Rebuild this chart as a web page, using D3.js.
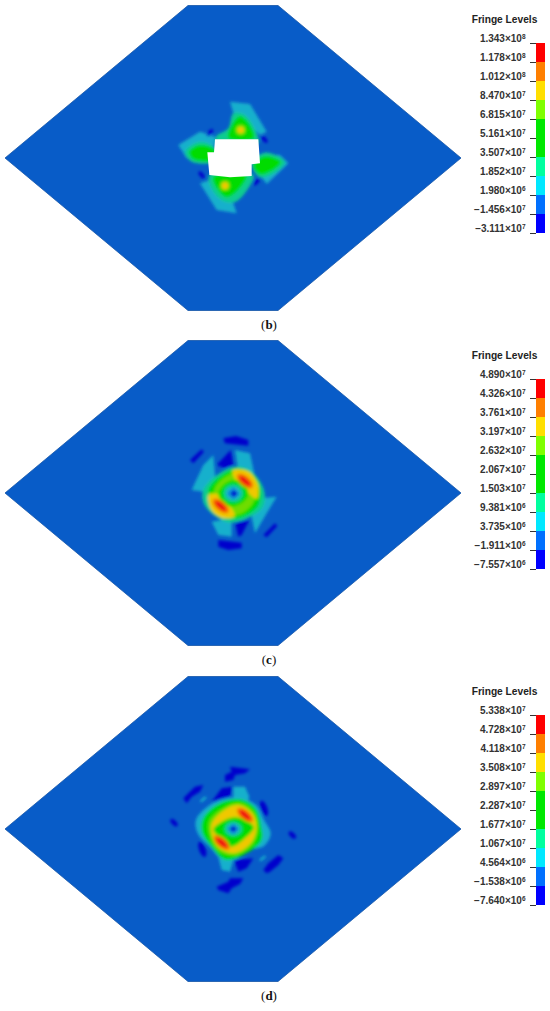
<!DOCTYPE html>
<html><head><meta charset="utf-8">
<script src="https://cdnjs.cloudflare.com/ajax/libs/d3/7.8.5/d3.min.js"></script>
<style>html,body{margin:0;padding:0;background:#fff}svg{display:block}</style></head>
<body><div id="c"></div>
<script>
const legendTitle = "Fringe Levels";
const levelsB = [["1.343","8"],["1.178","8"],["1.012","8"],["8.470","7"],["6.815","7"],["5.161","7"],["3.507","7"],["1.852","7"],["1.980","6"],["\u22121.456","7"],["\u22123.111","7"]];
const levelsC = [["4.890","7"],["4.326","7"],["3.761","7"],["3.197","7"],["2.632","7"],["2.067","7"],["1.503","7"],["9.381","6"],["3.735","6"],["\u22121.911","6"],["\u22127.557","6"]];
const levelsD = [["5.338","7"],["4.728","7"],["4.118","7"],["3.508","7"],["2.897","7"],["2.287","7"],["1.677","7"],["1.067","7"],["4.564","6"],["\u22121.538","6"],["\u22127.640","6"]];
const bandColors = ["#ff0000","#ff7f00","#ffdf00","#7fff00","#00e800","#00e800","#00ff9f","#00e8ff","#0070ff","#0000ff"];
const captions = ["b","c","d"];

// outline of the plate in plate units
const plateOutline = [[-45,-152.5],[45,-152.5],[228,0],[45,152.5],[-45,152.5],[-228,0]];

// contour shapes: [fringe colour key, "p" polygon | "r" rounded | "e" ellipse, geometry]
const fringeTone = {dark:"#0000cc",teal:"#18b0cc",mint:"#10cc90",green:"#00dc00",lime:"#70dc00",gold:"#f0c800",orange:"#f67a00",red:"#f01008",blue:"#0a5fc8",azure:"#0a8ad8"};
const shapesB = [
 ["teal","p",[[240,65],[300,72],[350,155],[330,165],[300,135],[255,115]]],
 ["teal","p",[[85,195],[150,155],[195,170],[190,240],[110,235]]],
 ["teal","p",[[415,250],[350,312],[330,285],[320,225],[390,225]]],
 ["teal","p",[[150,310],[195,295],[240,340],[260,400],[200,390]]],
 ["mint","r",[[198,170],[235,145],[250,100],[285,105],[320,160],[325,190],[200,190]]],
 ["mint","r",[[178,285],[310,285],[295,325],[258,365],[225,365],[190,335]]],
 ["mint","r",[[105,215],[150,185],[195,205],[190,245],[125,245]]],
 ["mint","r",[[305,250],[345,218],[405,245],[380,275],[330,292]]],
 ["green","r",[[118,215],[150,195],[195,210],[190,240],[130,238]]],
 ["green","r",[[310,255],[345,228],[392,245],[375,266],[330,283]]],
 ["green","r",[[235,175],[245,135],[270,108],[300,135],[312,175]]],
 ["green","r",[[190,290],[290,285],[255,340],[228,352],[200,325]]],
 ["lime","e",[272,150,15,15,0]],
 ["lime","e",[225,317,15,15,0]],
 ["gold","e",[272,150,10,10,0]],
 ["gold","e",[225,317,10,10,0]],
 ["dark","e",[180,158,6,13,40]],
 ["dark","e",[343,178,6,13,-40]],
 ["dark","e",[155,285,6,13,-40]],
 ["dark","e",[320,305,6,13,40]]
];
const holeB = [[195,178],[325,178],[330,250],[305,253],[305,288],[240,292],[178,285],[172,217],[192,217]];
const shapesC = [
 ["teal","p",[[95,270],[130,195],[160,165],[165,225],[150,295],[130,275]]],
 ["teal","p",[[225,150],[270,160],[288,245],[235,215]]],
 ["teal","p",[[350,290],[320,340],[285,400],[275,350],[300,295]]],
 ["teal","p",[[155,365],[215,355],[215,410],[175,405]]],
 ["dark","p",[[190,115],[228,108],[265,120],[265,137],[195,130]]],
 ["dark","p",[[175,420],[245,428],[245,445],[205,450],[175,440]]],
 ["dark","p",[[90,180],[125,148],[132,155],[100,190]]],
 ["dark","p",[[310,405],[345,370],[352,378],[320,412]]],
 ["dark","p",[[170,195],[212,150],[220,195],[195,205]]],
 ["dark","p",[[225,365],[268,360],[245,405],[235,410]]],
 ["mint","r",[[130,270],[175,222],[225,200],[272,212],[312,270],[308,322],[262,355],[210,368],[165,348],[132,312]]],
 ["green","r",[[145,270],[190,222],[235,205],[278,222],[302,270],[294,318],[250,350],[200,356],[156,328]]],
 ["lime","r",[[165,265],[195,232],[235,215],[272,232],[290,270],[275,315],[240,342],[195,345],[165,315]]],
 ["gold","r",[[218,212],[264,214],[294,255],[290,296],[258,272],[228,242]]],
 ["gold","r",[[146,285],[175,283],[208,315],[224,348],[188,354],[154,330]]],
 ["green","r",[[175,280],[195,250],[225,240],[255,255],[265,285],[245,310],[215,320],[185,305]]],
 ["orange","e",[255,243,30,15,40]],
 ["orange","e",[182,318,30,15,40]],
 ["red","e",[255,243,21,8,40]],
 ["red","e",[182,318,21,8,40]],
 ["mint","e",[220,280,30,27,0]],
 ["teal","e",[220,280,22,20,0]],
 ["azure","p",[[220,262],[238,281],[220,298],[202,281]]],
 ["dark","p",[[222,270],[233,281],[222,291],[211,281]]]
];
const shapesD = [
 ["dark","p",[[240,110],[300,118],[285,130],[255,135],[250,150],[225,155],[225,135],[245,125]]],
 ["dark","p",[[200,470],[235,455],[240,445],[280,445],[270,462],[245,475],[235,490],[205,480]]],
 ["dark","p",[[100,205],[135,170],[160,165],[150,185],[125,200],[110,220]]],
 ["dark","p",[[340,420],[355,400],[385,375],[400,385],[385,405],[360,425],[350,430]]],
 ["dark","p",[[185,215],[215,175],[250,170],[240,200],[205,215]]],
 ["dark","p",[[252,390],[310,385],[290,415],[265,425]]],
 ["dark","e",[72,278,14,7,45]],
 ["dark","e",[427,315,14,7,45]],
 ["dark","e",[342,235,10,24,-20]],
 ["dark","e",[157,358,10,24,-20]],
 ["teal","e",[160,208,12,4,-40]],
 ["teal","e",[338,385,12,4,-40]],
 ["teal","p",[[250,170],[285,170],[298,200],[290,225],[250,210]]],
 ["teal","p",[[205,380],[250,390],[240,425],[215,420]]],
 ["teal","r",[[138,270],[170,232],[215,208],[270,203],[318,225],[342,270],[362,310],[342,348],[290,362],[260,387],[220,392],[180,352],[143,310]]],
 ["green","r",[[160,265],[205,222],[265,207],[314,232],[334,290],[334,332],[282,374],[225,389],[183,348],[156,305]]],
 ["lime","r",[[178,275],[215,238],[265,219],[308,243],[323,295],[308,342],[258,375],[208,363],[181,320]]],
 ["gold","r",[[186,280],[220,242],[265,225],[309,253],[319,295],[304,337],[255,369],[208,354],[186,315]]],
 ["green","r",[[190,298],[225,270],[255,262],[285,270],[312,292],[285,325],[245,350],[215,328]]],
 ["orange","e",[285,255,30,14,40]],
 ["orange","e",[215,338,30,14,40]],
 ["red","e",[285,255,21,8,40]],
 ["red","e",[215,338,21,8,40]],
 ["mint","e",[250,297,27,22,0]],
 ["teal","e",[250,297,19,17,0]],
 ["azure","p",[[250,281],[267,297],[250,313],[233,297]]],
 ["dark","p",[[250,288],[260,297],[250,306],[240,297]]]
];

const panels = [
 {name:captions[0],levels:levelsB,shapes:shapesB,hole:holeB,cy:158,crop:[150,80,170,140],legendY:43,capY:329},
 {name:captions[1],levels:levelsC,shapes:shapesC,hole:null,cy:493,crop:[160,400,150,160],legendY:379,capY:664},
 {name:captions[2],levels:levelsD,shapes:shapesD,hole:null,cy:829,crop:[150,730,170,170],legendY:715,capY:1000}
];

const svg = d3.select("#c").append("svg").attr("width",550).attr("height",1011);
const defs = svg.append("defs");
defs.append("filter").attr("id","soft").attr("x","-20%").attr("y","-20%").attr("width","140%").attr("height","140%")
  .append("feGaussianBlur").attr("stdDeviation",1.6);
defs.append("filter").attr("id","soft2").append("feGaussianBlur").attr("stdDeviation",0.5);
defs.append("filter").attr("id","textsoft").append("feGaussianBlur").attr("stdDeviation",0.25);

panels.forEach(p=>{
  const g = svg.append("g");
  const px = d3.scaleLinear().domain([-228,228]).range([5,461]);
  const py = d3.scaleLinear().domain([-152.5,152.5]).range([p.cy-152.5,p.cy+152.5]);
  g.append("path").attr("d",d3.line().x(d=>px(d[0])).y(d=>py(d[1])).curve(d3.curveLinearClosed)(plateOutline))
    .attr("fill","#085cc8").attr("stroke","#1456a8").attr("stroke-width",0.8);

  const [cx,cy,cw,ch] = p.crop;
  const x = d3.scaleLinear().domain([0,cw*3]).range([cx,cx+cw]);
  const y = d3.scaleLinear().domain([0,ch*3]).range([cy,cy+ch]);
  const poly = d3.line().x(d=>x(d[0])).y(d=>y(d[1])).curve(d3.curveLinearClosed);
  const round = d3.line().x(d=>x(d[0])).y(d=>y(d[1])).curve(d3.curveCatmullRomClosed);
  const fg = g.append("g").attr("filter","url(#soft)");
  p.shapes.forEach(([tone,kind,geo])=>{
    if(kind==="e"){
      const [ex,ey,rx,ry,rot]=geo;
      fg.append("ellipse").attr("cx",x(ex)).attr("cy",y(ey)).attr("rx",rx/3).attr("ry",ry/3)
        .attr("transform",`rotate(${rot} ${x(ex)} ${y(ey)})`).attr("fill",fringeTone[tone]);
    } else {
      fg.append("path").attr("d",(kind==="p"?poly:round)(geo)).attr("fill",fringeTone[tone]);
    }
  });
  if(p.hole) g.append("path").attr("d",poly(p.hole)).attr("fill","#fff").attr("filter","url(#soft2)");

  // legend
  const band = d3.scalePoint().domain(d3.range(p.levels.length)).range([p.legendY,p.legendY+190]);
  const lg = g.append("g");
  lg.append("text").attr("x",504.5).attr("y",p.legendY-20).attr("text-anchor","middle")
    .attr("font-family","'Liberation Sans',Arial,sans-serif").attr("font-weight","bold").attr("font-size",10.2).attr("fill","#222")
    .text(legendTitle);
  bandColors.forEach((c,i)=>{
    lg.append("rect").attr("x",536).attr("width",9).attr("y",band(i)).attr("height",band(i+1)-band(i)).attr("fill",c);
  });
  p.levels.forEach((l,i)=>{
    lg.append("line").attr("x1",530).attr("x2",536).attr("y1",band(i)+.5).attr("y2",band(i)+.5).attr("stroke","#333").attr("stroke-width",1);
    const t = lg.append("text").attr("x",525.5).attr("y",band(i)-1).attr("text-anchor","end")
      .attr("font-family","'Liberation Sans',Arial,sans-serif").attr("font-weight","bold").attr("font-size",10).attr("fill","#333");
    t.append("tspan").text(l[0]+"\u00d710");
    t.append("tspan").attr("dy",-3.5).attr("font-size",6.5).text(l[1]);
  });

  const cap = g.append("text").attr("x",269).attr("y",p.capY).attr("text-anchor","middle")
    .attr("font-family","'Liberation Serif','Times New Roman',serif").attr("font-size",13).attr("fill","#111");
  cap.append("tspan").text("(");
  cap.append("tspan").attr("font-weight","bold").text(p.name);
  cap.append("tspan").text(")");
});
</script></body></html>
